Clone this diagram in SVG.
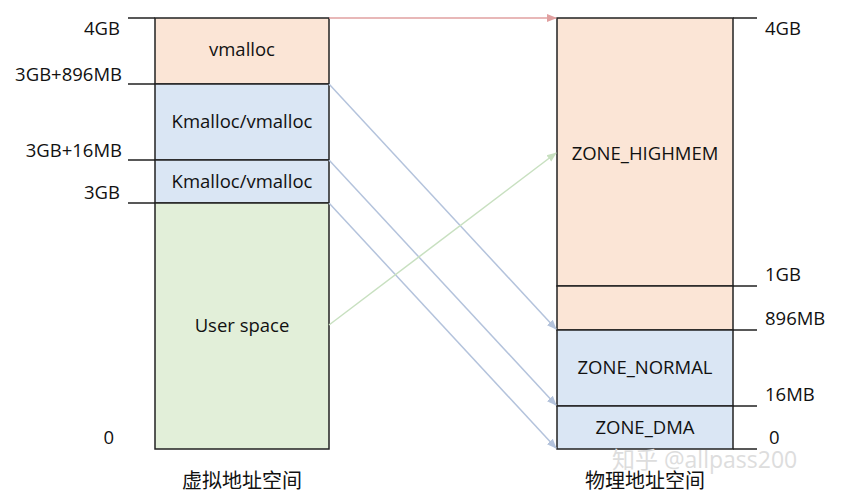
<svg xmlns="http://www.w3.org/2000/svg" width="847" height="500" viewBox="0 0 847 500">
<style>
text{font-family:"Open Sans","Noto Sans CJK SC",sans-serif;font-size:18.5px;fill:#111}
.c{text-anchor:middle}.r{text-anchor:end}
.h{font-size:20px}
.b{stroke:#222;stroke-width:1.5}
.t{stroke:#222;stroke-width:1.5}
</style>
<defs>
<marker id="ab" markerWidth="10" markerHeight="10" refX="9" refY="5" orient="auto" markerUnits="userSpaceOnUse"><path d="M0,1L10,5L0,9z" fill="#b4c3dc"/></marker>
<marker id="ar" markerWidth="10" markerHeight="10" refX="9" refY="5" orient="auto" markerUnits="userSpaceOnUse"><path d="M0,1L10,5L0,9z" fill="#e0a0a0"/></marker>
<marker id="ag" markerWidth="10" markerHeight="10" refX="9" refY="5" orient="auto" markerUnits="userSpaceOnUse"><path d="M0,1L10,5L0,9z" fill="#c8e0c0"/></marker>
</defs>
<rect width="847" height="500" fill="#fff"/>
<g id="virt">
<rect x="155" y="18" width="174" height="66" fill="#fbe5d6" class="b"/>
<rect x="155" y="84" width="174" height="76" fill="#dae6f4" class="b"/>
<rect x="155" y="160" width="174" height="43" fill="#dae6f4" class="b"/>
<rect x="155" y="203" width="174" height="246" fill="#e2efd9" class="b"/>
<text x="242" y="56" class="c">vmalloc</text>
<text x="242" y="128" class="c">Kmalloc/vmalloc</text>
<text x="242" y="188" class="c">Kmalloc/vmalloc</text>
<text x="242" y="332" class="c">User space</text>
<path d="M128 18H155M128 84H155M128 160H155M128 203H155" class="t"/>
<text x="120" y="35" class="r">4GB</text>
<text x="122" y="81" class="r">3GB+896MB</text>
<text x="122" y="157" class="r">3GB+16MB</text>
<text x="120" y="199" class="r">3GB</text>
<text x="114" y="444" class="r">0</text>
<text x="242" y="488" class="c h">虚拟地址空间</text>
</g>
<g id="phys">
<rect x="557" y="18" width="176" height="268" fill="#fbe5d6" class="b"/>
<rect x="557" y="286" width="176" height="44" fill="#fbe5d6" class="b"/>
<rect x="557" y="330" width="176" height="76" fill="#dae6f4" class="b"/>
<rect x="557" y="406" width="176" height="43" fill="#dae6f4" class="b"/>
<text x="645" y="160" class="c">ZONE_HIGHMEM</text>
<text x="645" y="374" class="c">ZONE_NORMAL</text>
<text x="645" y="434" class="c">ZONE_DMA</text>
<path d="M733 18H757M733 286H757M733 330H757M733 406H757M733 449H757" class="t"/>
<text x="765" y="35">4GB</text>
<text x="765" y="281">1GB</text>
<text x="765" y="325">896MB</text>
<text x="765" y="401">16MB</text>
<text x="769" y="444">0</text>
<text x="645" y="488" class="c h">物理地址空间</text>
</g>
<g id="connectors" fill="none" stroke-width="1.5">
<path d="M329 18H556" stroke="#e0a0a0" marker-end="url(#ar)"/>
<path d="M329 84L556 329" stroke="#b4c3dc" marker-end="url(#ab)"/>
<path d="M329 160L556 405" stroke="#b4c3dc" marker-end="url(#ab)"/>
<path d="M329 203L556 448" stroke="#b4c3dc" marker-end="url(#ab)"/>
<path d="M329 325L556 153" stroke="#c8e0c0" marker-end="url(#ag)"/>
</g>
<text x="612" y="468" style="font-size:23px;fill:#ddd">知乎 @allpass200</text>
</svg>
